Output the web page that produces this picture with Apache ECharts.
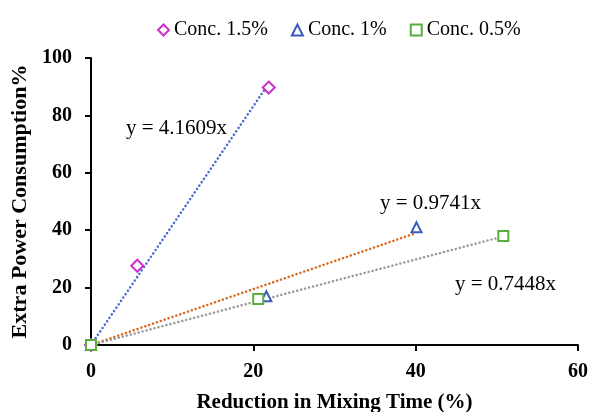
<!DOCTYPE html>
<html>
<head>
<meta charset="utf-8">
<script src="https://cdn.jsdelivr.net/npm/echarts@6/dist/echarts.min.js"></script>
<style>
  html, body { margin: 0; padding: 0; background: #fff; }
  #chart { width: 590px; height: 412px; }
</style>
</head>
<body>
<div id="chart"></div>
<script>
// data
var seriesNames = ['Conc. 1.5%', 'Conc. 1%', 'Conc. 0.5%'];
var conc15 = [[0, 0], [5.7, 27.6], [21.9, 89.7]];
var conc1 = [[0, 0], [21.6, 17.0], [40.1, 41.0]];
var conc05 = [[0, 0], [20.6, 16.0], [50.8, 38.0]];
// trendline slopes (y = kx), drawn over the x range of each data set
var slopes = [4.1609, 0.9741, 0.7448];
var xTicks = [0, 20, 40, 60];
var yTicks = [0, 20, 40, 60, 80, 100];

var allData = [conc15, conc1, conc05];
var symbols = ['diamond', 'triangle', 'rect'];
var symbolSizes = [12, 10, 10];
var markColors = ['#D02FD0', '#3A5BBF', '#5AAE3C'];
var trendColors = ['#4A6BD0', '#D9691F', '#9A9A9A'];

function trend(i) {
    var xs = allData[i].map(function (p) { return p[0]; });
    var xMax = Math.max.apply(null, xs);
    return [[0, 0], [xMax, slopes[i] * xMax]];
}

var series = [];
// trendlines first so markers sit on top
allData.forEach(function (d, i) {
    series.push({
        name: 'trend' + i,
        type: 'line',
        data: trend(i),
        symbol: 'none',
        silent: true,
        lineStyle: { color: trendColors[i], width: 2.5, type: [0.1, 4], cap: 'round' },
        z: 2
    });
});
allData.forEach(function (d, i) {
    series.push({
        name: seriesNames[i],
        type: 'scatter',
        data: d,
        symbol: symbols[i],
        symbolSize: symbolSizes[i],
        itemStyle: { color: '#fff', borderColor: markColors[i], borderWidth: 2, opacity: 1 },
        z: 3
    });
});

var chart = echarts.init(document.getElementById('chart'));
var serif = 'Liberation Serif';
var eqFont = '21px "Liberation Serif"';
chart.setOption({
    animation: false,
    grid: { left: 91, right: 12, top: 58, bottom: 67, outerBoundsMode: 'none', containLabel: false },
    legend: {
        data: seriesNames.map(function (n, i) {
            return { name: n, icon: symbols[i] };
        }),
        top: 15,
        left: 152,
        itemWidth: 11,
        itemHeight: 11,
        itemGap: 23,
        textStyle: { fontFamily: serif, fontSize: 20, color: '#000' }
    },
    xAxis: {
        type: 'value',
        min: 0, max: 60, interval: 20,
        name: 'Reduction in Mixing Time (%)',
        nameLocation: 'middle',
        nameGap: 47,
        nameTextStyle: { fontFamily: serif, fontSize: 21, fontWeight: 'bold', color: '#000' },
        axisLine: { show: true, lineStyle: { color: '#000', width: 2 } },
        axisTick: { show: true, length: 6, lineStyle: { color: '#000', width: 2 } },
        axisLabel: { fontFamily: serif, fontSize: 20, fontWeight: 'bold', color: '#000', margin: 17 },
        splitLine: { show: false }
    },
    yAxis: {
        type: 'value',
        min: 0, max: 100, interval: 20,
        name: 'Extra Power Consumption%',
        nameLocation: 'middle',
        nameGap: 60,
        nameTextStyle: { fontFamily: serif, fontSize: 22, fontWeight: 'bold', color: '#000' },
        axisLine: { show: true, lineStyle: { color: '#000', width: 2 } },
        axisTick: { show: true, length: 6, lineStyle: { color: '#000', width: 2 } },
        axisLabel: { fontFamily: serif, fontSize: 20, fontWeight: 'bold', color: '#000', margin: 19 },
        splitLine: { show: false }
    },
    graphic: [
        { type: 'text', left: 126, top: 118, style: { text: 'y = ' + slopes[0] + 'x', font: eqFont, fill: '#000' } },
        { type: 'text', left: 380, top: 193, style: { text: 'y = ' + slopes[1] + 'x', font: eqFont, fill: '#000' } },
        { type: 'text', left: 455, top: 274, style: { text: 'y = ' + slopes[2] + 'x', font: eqFont, fill: '#000' } }
    ],
    series: series
});
</script>
</body>
</html>
